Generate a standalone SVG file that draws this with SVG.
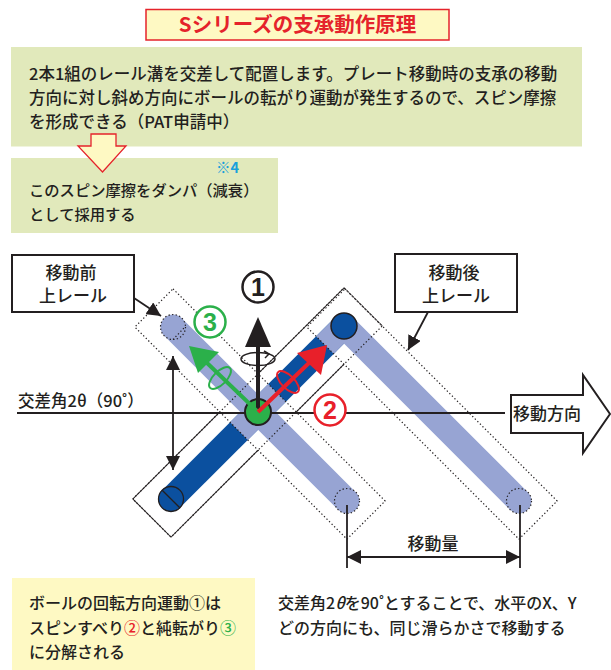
<svg xmlns="http://www.w3.org/2000/svg" xmlns:xlink="http://www.w3.org/1999/xlink" width="611" height="670" viewBox="0 0 611 670">
  <style>
    .jp { font-family: "Noto Sans CJK JP", "Noto Sans", sans-serif; fill: #231f20; }
    .md { font-weight: 500; }
    .num { font-family: "Liberation Sans", Arial, sans-serif; font-weight: bold; text-anchor: middle; }
    .dot { fill: none; stroke: #231f20; stroke-width: 1.2; stroke-dasharray: 1.3 2.3; }
    .thin { fill: none; stroke: #231f20; stroke-width: 1; }
    .lb { fill: #97a4d3; }
    .db { fill: #0b509f; }
    .lbl { fill: #fff; stroke: #231f20; stroke-width: 2; }
  </style>
  <defs>
    <marker id="head" viewBox="0 0 10 10" refX="10" refY="5" markerWidth="14" markerHeight="14" markerUnits="userSpaceOnUse" orient="auto-start-reverse">
      <path d="M0,0 L10,5 L0,10 Z" fill="#231f20"/>
    </marker>
    <!-- upper plates (before / after movement) -->
    <clipPath id="plates">
      <rect x="-150" y="-27" width="300" height="54" transform="translate(260,414) rotate(45)"/>
      <rect x="-150" y="-27" width="300" height="54" transform="translate(432,414) rotate(45)"/>
    </clipPath>
    <g id="lowerRod">
      <rect x="-122.3" y="-12.5" width="244.6" height="25"/>
      <circle cx="-122.3" cy="0" r="12.5"/>
    </g>
  </defs>

  <!-- title -->
  <g id="title">
    <rect x="146" y="9.5" width="303" height="30.5" fill="#fef9c3" stroke="#e5232b" stroke-width="1.5"/>
    <text x="297.5" y="32" class="jp" font-size="20.5" font-weight="bold" text-anchor="middle" style="fill:#e5232b">Sシリーズの支承動作原理</text>
  </g>

  <!-- explanation box -->
  <g id="note-main">
    <rect x="11" y="47" width="571" height="99.5" fill="#e1e9bb"/>
    <text class="jp md" font-size="16.5">
      <tspan x="29" y="80">2本1組のレール溝を交差して配置します。プレート移動時の支承の移動</tspan>
      <tspan x="29" y="104">方向に対し斜め方向にボールの転がり運動が発生するので、スピン摩擦</tspan>
      <tspan x="29" y="127.5">を形成できる（PAT申請中）</tspan>
    </text>
  </g>

  <!-- damper box -->
  <g id="note-damper">
    <rect x="11" y="158" width="267" height="75" fill="#e1e9bb"/>
    <text x="216" y="173" class="jp" font-size="14.5" font-weight="bold" style="fill:#18a0db">※4</text>
    <text class="jp md" font-size="15.3">
      <tspan x="29" y="196">このスピン摩擦をダンパ（減衰）</tspan>
      <tspan x="29" y="220">として採用する</tspan>
    </text>
  </g>

  <!-- down arrow between boxes -->
  <g id="down-arrow">
    <path d="M91,134 L116,134 L116,146 L126,146 L102.5,172 L78,146 L91,146 Z" fill="#fef9c3" stroke="#e5232b" stroke-width="1.3" stroke-linejoin="miter"/>
  </g>

  <!-- rails -->
  <g id="rails">
    <!-- lower rail groove -->
    <rect class="thin" x="-149.3" y="-27" width="298.6" height="54" transform="translate(257.5,412.5) rotate(-45)"/>
    <!-- upper plates hide the groove edges beneath them -->
    <rect x="-150" y="-27" width="300" height="54" fill="#fff" transform="translate(260,414) rotate(45)"/>
    <rect x="-150" y="-27" width="300" height="54" fill="#fff" transform="translate(432,414) rotate(45)"/>
    <!-- lower rail rod -->
    <use xlink:href="#lowerRod" class="db" transform="translate(257.5,412.5) rotate(-45)"/>
    <g clip-path="url(#plates)">
      <use xlink:href="#lowerRod" class="lb" transform="translate(257.5,412.5) rotate(-45)"/>
    </g>
    <!-- upper rail rods -->
    <rect class="lb" x="-135.5" y="-12.5" width="271" height="25" rx="12.5" transform="translate(260,414) rotate(45)"/>
    <rect class="lb" x="-135.5" y="-12.5" width="271" height="25" rx="12.5" transform="translate(432,414) rotate(45)"/>
    <!-- hidden edges -->
    <rect class="dot" x="-149.3" y="-27" width="298.6" height="54" transform="translate(257.5,412.5) rotate(-45)"/>
    <rect class="dot" x="-150" y="-27" width="300" height="54" transform="translate(260,414) rotate(45)"/>
    <rect class="dot" x="-150" y="-27" width="300" height="54" transform="translate(432,414) rotate(45)"/>
    <!-- rod ends -->
    <circle class="dot" cx="173" cy="327" r="12.5"/>
    <line class="dot" x1="173" y1="339.5" x2="185" y2="327"/>
    <circle class="dot" cx="347" cy="501" r="12.5"/>
    <circle class="dot" cx="519" cy="501" r="12.5"/>
    <circle cx="171" cy="499" r="12.5" fill="#0b509f" stroke="#231f20" stroke-width="1.3"/>
    <line x1="162.2" y1="490.2" x2="179.8" y2="507.8" stroke="#231f20" stroke-width="1.3"/>
    <circle cx="344" cy="326" r="13" fill="#0b509f" stroke="#231f20" stroke-width="1.5"/>
  </g>

  <!-- connectors and measure lines -->
  <g id="connectors" stroke="#231f20" fill="none">
    <line x1="17" y1="413" x2="505" y2="413" stroke-width="1.8"/>
    <line x1="173" y1="356" x2="173" y2="470" stroke-width="1.8" marker-start="url(#head)" marker-end="url(#head)"/>
    <line x1="134" y1="298" x2="161" y2="316" stroke-width="1.8" marker-end="url(#head)"/>
    <line x1="428" y1="312" x2="408" y2="350" stroke-width="1.8" marker-end="url(#head)"/>
    <line x1="347" y1="505" x2="347" y2="568" stroke-width="1.8"/>
    <line x1="520" y1="505" x2="520" y2="568" stroke-width="1.8"/>
    <line x1="347" y1="557" x2="520" y2="557" stroke-width="1.8" marker-start="url(#head)" marker-end="url(#head)"/>
  </g>

  <!-- ball and motion vectors -->
  <g id="ball">
    <circle cx="258" cy="412" r="13" fill="#2bb04a" stroke="#231f20" stroke-width="2"/>
    <!-- rotation about vertical axis (back half) -->
    <path d="M241,359 A17,6.5 0 0 1 275,359" fill="none" stroke="#231f20" stroke-width="1.5"/>
    <!-- vertical -->
    <line x1="258" y1="412" x2="258" y2="345" stroke="#231f20" stroke-width="4"/>
    <path d="M258,317 L271,347 L245,347 Z" fill="#231f20"/>
    <path d="M275,359 A17,6.5 0 0 1 241,359" fill="none" stroke="#231f20" stroke-width="1.5"/>
    <path d="M264,351 L269,354 L265,358" fill="none" stroke="#231f20" stroke-width="1.5"/>
    <!-- rolling -->
    <line x1="258" y1="412" x2="205" y2="361" stroke="#2bb04a" stroke-width="4"/>
    <path d="M189,346 L219,352 L198,373 Z" fill="#2bb04a"/>
    <ellipse cx="220" cy="378" rx="14" ry="6.5" transform="rotate(-45 220 378)" fill="none" stroke="#2bb04a" stroke-width="2"/>
    <!-- spin slip -->
    <line x1="258" y1="412" x2="311" y2="361" stroke="#e8202a" stroke-width="4"/>
    <path d="M327,345 L321,375 L297,353 Z" fill="#e8202a"/>
    <ellipse cx="288" cy="382" rx="14" ry="6.5" transform="rotate(45 288 382)" fill="none" stroke="#e8202a" stroke-width="2"/>
  </g>

  <!-- circled numbers -->
  <g id="n1">
    <circle cx="258" cy="287" r="15.5" fill="#fff" stroke="#231f20" stroke-width="2.5"/>
    <text x="258" y="296" class="num" font-size="25" fill="#231f20">1</text>
  </g>
  <g id="n3">
    <circle cx="210" cy="322" r="15.5" fill="#fff" stroke="#2bb04a" stroke-width="2.5"/>
    <text x="210" y="331" class="num" font-size="25" fill="#2bb04a">3</text>
  </g>
  <g id="n2">
    <circle cx="330" cy="410" r="15.5" fill="#fff" stroke="#e8202a" stroke-width="2.5"/>
    <text x="330" y="419" class="num" font-size="25" fill="#e8202a">2</text>
  </g>

  <!-- labels -->
  <g id="label-before">
    <rect class="lbl" x="12" y="255" width="122" height="57"/>
    <text class="jp md" font-size="17" text-anchor="middle">
      <tspan x="73" y="279">移動前</tspan>
      <tspan x="73" y="302">上レール</tspan>
    </text>
  </g>
  <g id="label-after">
    <rect class="lbl" x="395" y="254" width="122" height="58"/>
    <text class="jp md" font-size="17" text-anchor="middle">
      <tspan x="456" y="279">移動後</tspan>
      <tspan x="456" y="302">上レール</tspan>
    </text>
  </g>
  <g id="angle-label">
    <text x="18" y="407" class="jp md" font-size="16.5">交差角2θ（90˚）</text>
  </g>
  <g id="direction">
    <path d="M511,395 L583,395 L583,375 L610,414 L583,453 L583,433 L511,433 Z" fill="#fff" stroke="#231f20" stroke-width="2"/>
    <text x="547" y="420" class="jp md" font-size="17" text-anchor="middle">移動方向</text>
  </g>
  <g id="amount">
    <text x="433" y="550" class="jp md" font-size="17" text-anchor="middle">移動量</text>
  </g>

  <!-- bottom notes -->
  <g id="note-decompose">
    <rect x="12" y="578" width="243" height="92" fill="#fef9c3"/>
    <text class="jp md" font-size="16">
      <tspan x="29" y="609">ボールの回転方向運動①は</tspan>
      <tspan x="29" y="634">スピンすべり<tspan style="fill:#e8202a">②</tspan>と純転がり<tspan style="fill:#2bb04a">③</tspan></tspan>
      <tspan x="29" y="658">に分解される</tspan>
    </text>
  </g>
  <g id="note-angle">
    <text class="jp md" font-size="16">
      <tspan x="278" y="609">交差角2<tspan font-style="italic">θ</tspan>を90˚とすることで、水平のX、Y</tspan>
      <tspan x="278" y="634">どの方向にも、同じ滑らかさで移動する</tspan>
    </text>
  </g>
</svg>
